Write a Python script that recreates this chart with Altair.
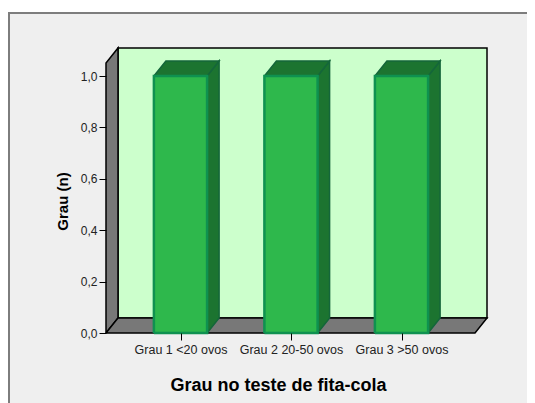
import json
import altair as alt
import pandas as pd

categories = ["Grau 1 <20 ovos", "Grau 2 20-50 ovos", "Grau 3 >50 ovos"]
values = [1.0, 1.0, 1.0]
y_ticks = [0.0, 0.2, 0.4, 0.6, 0.8, 1.0]

UNIT_X = 110.5   # px per category
UNIT_Y = 257.0   # px per 1.0
LEFT_PX = 98     # chart coordinate of the left of the plot
TOP_PX = 40
W_PX = 381
H_PX = 285
DX = 12 / UNIT_X
DY = 15 / UNIT_Y
HALF = 26.6 / UNIT_X
X0 = 1 - (180.5 - 106) / UNIT_X
X1 = X0 + W_PX / UNIT_X
Y1 = H_PX / UNIT_Y
X_FRONT_R = X1 - DX

xs = alt.Scale(domain=[X0, X1], nice=False, zero=False)
ys = alt.Scale(domain=[0, Y1], nice=False, zero=False)

x_axis = alt.Axis(
    values=[1, 2, 3],
    labelExpr=f"{json.dumps(categories)}[datum.value-1]",
    title="Grau no teste de fita-cola",
    titleFont="Liberation Sans", titleFontSize=18, titleFontWeight="bold", titleColor="#000000",
    titleAnchor="start", titleAlign="center", titleX=172, titleY=57, titleBaseline="alphabetic",
    labelFont="Liberation Sans", labelFontSize=12.5, labelColor="#222222", labelPadding=3,
    labelOverlap=False, labelFlush=False,
    tickColor="#000000", tickSize=7, tickWidth=1, domain=False, grid=False, zindex=1,
)
y_axis = alt.Axis(
    values=y_ticks,
    labelExpr="replace(format(datum.value,'.1f'),'.',',')",
    title="Grau (n)",
    titleFont="Liberation Sans", titleFontSize=15, titleFontWeight="bold", titleColor="#000000",
    titleAnchor="start", titleAlign="center", titleAngle=-90, titleX=-44, titleY=153,
    titleBaseline="middle",
    labelFont="Liberation Sans", labelFontSize=12, labelColor="#222222", labelPadding=2,
    tickColor="#000000", tickSize=7, tickWidth=1, domain=False, grid=False, zindex=1,
)


def face(points, fill, stroke, sw=1.5):
    df = pd.DataFrame(
        [{"x": p[0], "y": p[1], "o": i} for i, p in enumerate(points)]
    )
    return alt.Chart(df).mark_line(
        fill=fill, stroke=stroke, strokeWidth=sw, strokeJoin="miter", interpolate="linear"
    ).encode(
        x=alt.X("x:Q", scale=xs, axis=x_axis),
        y=alt.Y("y:Q", scale=ys, axis=y_axis),
        order="o:Q",
    )


frame = alt.Chart(pd.DataFrame({"a": [0]})).mark_rect(
    fill="#efefef", stroke="#7d7d7d", strokeWidth=2
).encode(
    x=alt.value(-97), x2=alt.value(460),
    y=alt.value(-35), y2=alt.value(400),
)

layers = [frame]
GREY = "#787878"
WALL = "#ccffcc"
layers.append(face([(X0 + DX, DY), (X1, DY), (X1, Y1), (X0 + DX, Y1), (X0 + DX, DY)], WALL, "#000000"))
layers.append(face([(X0, 0), (X0 + DX, DY), (X0 + DX, Y1), (X0, Y1 - DY), (X0, 0)], GREY, "#000000"))
layers.append(face([(X0, 0), (X0 + DX, DY), (X1, DY), (X_FRONT_R, 0), (X0, 0)], GREY, "#000000"))

SIDE = "#1c7430"
EDGE_D = "#14663a"
FRONT = "#2eb84c"
EDGE = "#0f9150"
for i, v in enumerate(values):
    c = i + 1
    l, r = c - HALF, c + HALF
    layers.append(face([(r, 0), (r + DX, DY), (r + DX, v + DY), (r, v), (r, 0)], SIDE, EDGE_D))
    layers.append(face([(l, v), (l + DX, v + DY), (r + DX, v + DY), (r, v), (l, v)], SIDE, EDGE_D))
    layers.append(face([(l, 0), (l, v), (r, v), (r, 0), (l, 0)], FRONT, EDGE, 2.5))

chart = alt.layer(*layers).resolve_scale(x="shared", y="shared").properties(
    width=W_PX,
    height=H_PX,
    background="#ffffff",
    autosize=alt.AutoSizeParams(type="none"),
    padding={"left": LEFT_PX, "top": TOP_PX, "right": 519 - LEFT_PX - W_PX, "bottom": 395 - TOP_PX - H_PX},
).configure_view(stroke=None)

chart.save("out.html", embed_options={"renderer": "svg", "actions": False})
